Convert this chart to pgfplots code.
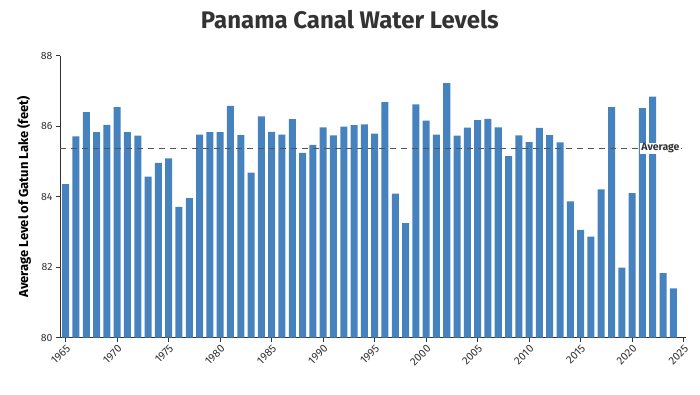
\documentclass[border=0pt]{standalone}
\usepackage{pgfplots}
\pgfplotsset{compat=1.18}
\usepackage{fontspec}
\setmainfont{Fira Sans}
\definecolor{barblue}{RGB}{70,130,190}
\definecolor{txt}{RGB}{51,51,51}
\begin{document}
\begin{tikzpicture}[x=1pt,y=1pt]
\path[use as bounding box] (0,0) rectangle (700,394);
\begin{axis}[
  at={(60pt,56.3pt)}, anchor=south west,
  scale only axis, width=626pt, height=282pt,
  xmin=1964.45, xmax=2025.23, ymin=80, ymax=88,
  axis x line*=bottom, axis y line*=left,
  axis line style={-, draw=txt, line width=0.9pt},
  tick align=outside, major tick length=4pt,
  tick style={draw=txt, line width=0.8pt},
  xtick={1965,1970,...,2025}, ytick={80,82,...,88},
  /pgf/number format/assume math mode=true,
  /pgf/number format/1000 sep={},
  x tick label style={rotate=45, anchor=north east, font=\fontsize{11}{13}\selectfont, text=txt, inner sep=1.5pt},
  y tick label style={font=\fontsize{10.5}{12}\selectfont, text=txt},
  title={Panama Canal Water Levels},
  title style={at={(axis description cs:0.463,1.076)}, anchor=base, font=\bfseries\fontsize{24}{28}\selectfont, text=txt},
  ylabel={Average Level of Gatun Lake (feet)},
  ylabel style={at={(axis description cs:-0.0575,0.5)}, anchor=center, rotate=0, font=\bfseries\fontsize{13}{15}\selectfont, text=black},
  clip=true,
]
\addplot[ybar, bar width=0.68, fill=barblue, draw=none] coordinates {
(1965,84.36) (1966,85.71) (1967,86.40) (1968,85.83) (1969,86.04)
(1970,86.54) (1971,85.83) (1972,85.73) (1973,84.57) (1974,84.96)
(1975,85.09) (1976,83.71) (1977,83.96) (1978,85.76) (1979,85.83)
(1980,85.83) (1981,86.58) (1982,85.75) (1983,84.68) (1984,86.28)
(1985,85.84) (1986,85.76) (1987,86.20) (1988,85.24) (1989,85.47)
(1990,85.97) (1991,85.74) (1992,85.99) (1993,86.03) (1994,86.05)
(1995,85.79) (1996,86.68) (1997,84.09) (1998,83.25) (1999,86.62)
(2000,86.16) (2001,85.76) (2002,87.22) (2003,85.73) (2004,85.96)
(2005,86.17) (2006,86.21) (2007,85.97) (2008,85.15) (2009,85.74)
(2010,85.55) (2011,85.95) (2012,85.75) (2013,85.54) (2014,83.87)
(2015,83.06) (2016,82.87) (2017,84.21) (2018,86.54) (2019,81.99)
(2020,84.10) (2021,86.51) (2022,86.84) (2023,81.83) (2024,81.40)
};
\addplot[draw={rgb,255:red,85;green,85;blue,85}, line width=0.9pt, dash pattern=on 6pt off 5pt] coordinates {(1964.45,85.37) (2025.23,85.37)};
\node[fill=white, font=\bfseries\fontsize{10.5}{12}\selectfont, text=txt, inner sep=1pt] at (axis cs:2022.75,85.37) {Average};
\end{axis}
\end{tikzpicture}
\end{document}
